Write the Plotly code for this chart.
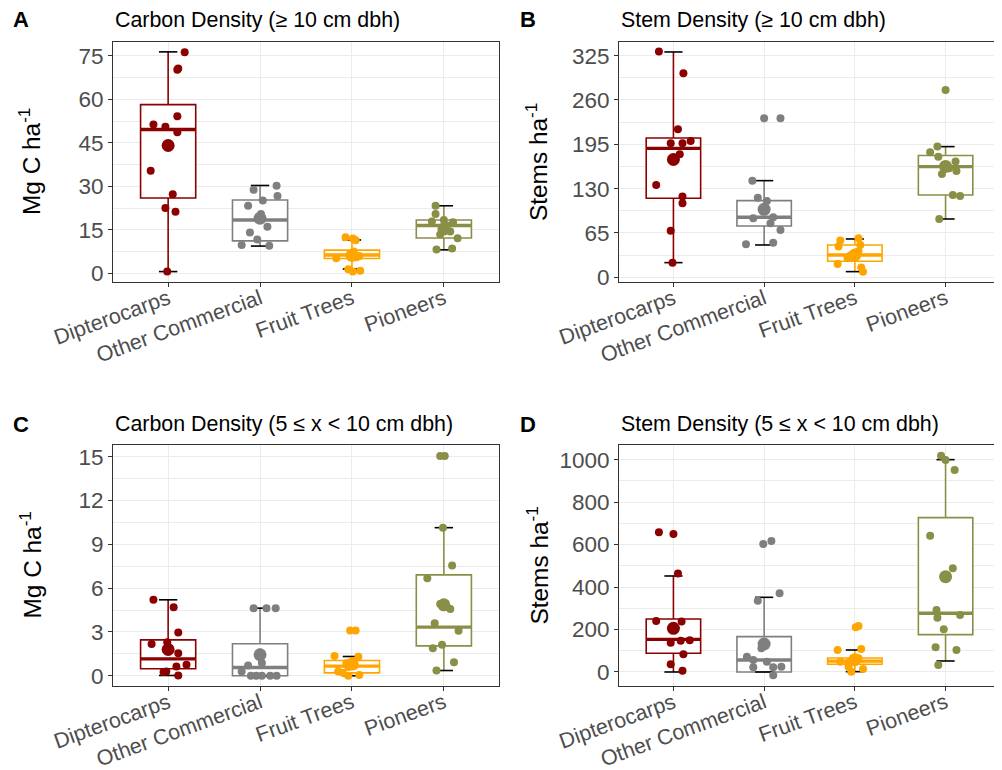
import plotly.graph_objects as go

categories = ["Dipterocarps", "Other Commercial", "Fruit Trees", "Pioneers"]
colors = ["#8B0000", "#7F7F7F", "#FFA500", "#8A8F47"]

# ---------------- Panel A: Carbon density (>= 10 cm dbh) ----------------
A_q1 = [26.0, 11.2, 5.1, 12.2]
A_med = [49.6, 18.4, 6.3, 16.5]
A_q3 = [58.2, 25.3, 8.0, 18.4]
A_lo = [0.6, 9.4, 1.5, 8.1]
A_hi = [76.4, 30.3, 11.5, 23.3]
A_mean = [44.1, 19.0, 6.2, 15.3]
A_pts = [
    [76.3, 70.7, 70.2, 54.2, 51.3, 50.6, 48.7, 35.4, 27.3, 22.5, 21.2, 0.6],
    [30.2, 28.8, 26.7, 25.1, 23.3, 20.5, 18.6, 16.1, 14.1, 11.7, 9.8, 9.5],
    [12.4, 12.0, 11.4, 7.5, 6.9, 6.3, 6.0, 5.5, 5.2, 1.4, 0.9, 0.6],
    [23.3, 20.5, 18.4, 17.9, 17.6, 16.5, 15.5, 14.4, 13.4, 12.1, 8.6, 8.2],
]
A_jit = [
    [0.18, 0.11, 0.10, 0.10, -0.16, -0.03, 0.10, -0.19, 0.05, -0.03, 0.08, -0.01],
    [0.18, -0.07, 0.19, 0.03, -0.13, 0.01, -0.02, 0.08, -0.11, -0.03, -0.20, 0.10],
    [-0.07, 0.01, 0.04, 0.02, 0.00, -0.02, 0.08, 0.05, -0.17, -0.04, 0.09, 0.01],
    [-0.09, -0.09, 0.00, -0.13, 0.10, 0.03, -0.02, 0.07, -0.04, 0.15, 0.09, -0.08],
]

# ---------------- Panel B: Stem density (>= 10 cm dbh) ----------------
B_q1 = [115.8, 75.3, 23.5, 120.7]
B_med = [189.1, 88.0, 32.7, 162.3]
B_q3 = [204.3, 112.4, 47.4, 178.6]
B_lo = [21.5, 47.4, 8.3, 85.5]
B_hi = [330.4, 141.7, 56.2, 191.6]
B_mean = [172.7, 99.7, 32.7, 162.5]
B_pts = [
    [330.9, 299.1, 217.0, 196.5, 196.5, 199.9, 180.3, 135.4, 118.3, 108.5, 68.4, 21.5],
    [233.1, 233.1, 141.7, 116.8, 111.9, 97.0, 88.0, 86.5, 79.2, 69.4, 50.8, 48.4],
    [57.2, 53.8, 47.4, 45.0, 38.0, 36.2, 32.0, 30.3, 27.9, 19.5, 14.2, 8.3],
    [274.7, 191.6, 183.3, 176.9, 169.6, 165.0, 159.8, 155.9, 151.5, 120.7, 119.2, 85.5],
]
B_jit = [
    [-0.16, 0.11, 0.05, -0.03, 0.10, 0.19, 0.07, -0.19, 0.10, 0.10, -0.03, -0.01],
    [0.00, 0.18, -0.13, -0.07, 0.03, -0.01, 0.10, -0.12, 0.07, 0.18, 0.10, -0.20],
    [0.04, -0.16, 0.06, -0.18, 0.04, 0.01, -0.05, -0.03, -0.08, -0.19, 0.07, 0.09],
    [0.00, -0.09, -0.17, -0.08, 0.11, 0.01, 0.04, 0.12, -0.04, 0.08, 0.16, -0.07],
]

# ---------------- Panel C: Carbon density (5 <= x < 10 cm dbh) ----------------
C_q1 = [0.48, 0.0, 0.2, 2.05]
C_med = [1.16, 0.57, 0.66, 3.33]
C_q3 = [2.46, 2.19, 1.05, 6.91]
C_lo = [0.02, 0.0, 0.0, 0.36]
C_hi = [5.2, 4.63, 1.32, 10.14]
C_mean = [1.8, 1.44, 0.8, 4.86]
C_pts = [
    [5.2, 4.7, 2.96, 2.3, 2.17, 1.9, 1.55, 0.75, 0.64, 0.3, 0.25, 0.02],
    [4.63, 4.63, 4.63, 1.6, 0.87, 0.71, 0.3, 0.0, 0.0, 0.0, 0.0, 0.0],
    [3.1, 3.1, 1.35, 1.3, 1.0, 0.85, 0.7, 0.6, 0.3, 0.2, 0.05, 0.0],
    [15.05, 15.05, 10.14, 7.55, 6.68, 4.92, 4.58, 3.6, 3.08, 2.12, 1.89, 0.93, 0.36],
]
C_jit = [
    [-0.16, 0.06, 0.11, -0.01, -0.18, 0.01, 0.11, 0.20, 0.09, -0.02, -0.05, 0.11],
    [-0.07, 0.07, 0.17, 0.00, 0.02, -0.13, -0.20, -0.10, 0.02, 0.11, 0.18, -0.04],
    [-0.02, 0.04, -0.19, 0.07, 0.01, -0.06, 0.03, -0.04, -0.15, -0.10, 0.08, -0.04],
    [-0.04, 0.01, -0.01, 0.09, -0.18, -0.04, 0.07, -0.10, 0.16, -0.02, -0.12, 0.11, -0.08],
]

# ---------------- Panel D: Stem density (5 <= x < 10 cm dbh) ----------------
D_q1 = [87.9, 0.0, 36.1, 176.0]
D_med = [153.8, 56.5, 51.0, 276.3]
D_q3 = [249.6, 166.4, 66.0, 726.8]
D_lo = [0.0, 0.0, 1.6, 51.8]
D_hi = [452.1, 351.7, 103.6, 1000.0]
D_mean = [205.7, 131.9, 58.0, 448.8]
D_pts = [
    [657.8, 650.0, 464.0, 240.0, 238.0, 150.0, 147.6, 138.2, 83.0, 37.0, 6.3],
    [617.0, 602.8, 370.5, 336.0, 111.5, 72.2, 56.5, 48.7, 25.0, 22.0, 22.0, -15.7],
    [216.6, 210.4, 108.3, 103.6, 64.4, 56.5, 50.0, 48.7, 45.0, 25.1, 14.1, 1.6],
    [1018.7, 998.4, 951.3, 642.0, 488.4, 292.0, 268.4, 255.7, 201.0, 116.3, 103.6, 33.0],
]
D_jit = [
    [-0.16, 0.00, 0.05, -0.19, 0.09, 0.18, 0.08, -0.03, 0.11, -0.03, 0.10],
    [0.08, -0.01, 0.17, -0.07, -0.03, -0.19, -0.12, 0.03, 0.19, -0.12, 0.10, 0.10],
    [0.04, 0.01, 0.07, -0.19, 0.04, -0.03, 0.01, -0.16, -0.07, -0.07, 0.09, -0.04],
    [-0.05, 0.00, 0.10, -0.17, 0.08, -0.10, 0.16, -0.09, -0.02, -0.11, 0.12, -0.08],
]

titles = ["Carbon Density (≥ 10 cm dbh)", "Stem Density (≥ 10 cm dbh)",
          "Carbon Density (5 ≤ x < 10 cm dbh)", "Stem Density (5 ≤ x < 10 cm dbh)"]
letters = ["A", "B", "C", "D"]
ytitles = ["Mg C ha<sup>-1</sup>", "Stems ha<sup>-1</sup>",
           "Mg C ha<sup>-1</sup>", "Stems ha<sup>-1</sup>"]
y_ranges = [[-3.0, 79.8], [-6.9, 345.0], [-0.7, 15.8], [-66, 1069]]
y_dticks = [15, 65, 3, 200]

panels = [
    (A_q1, A_med, A_q3, A_lo, A_hi, A_mean, A_pts, A_jit),
    (B_q1, B_med, B_q3, B_lo, B_hi, B_mean, B_pts, B_jit),
    (C_q1, C_med, C_q3, C_lo, C_hi, C_mean, C_pts, C_jit),
    (D_q1, D_med, D_q3, D_lo, D_hi, D_mean, D_pts, D_jit),
]

# The page body has an 8px margin: the figure starts 8px from the window edge.
OFF = 8
W, H = 1002 - OFF, 770 - OFF
# screen-pixel boxes of the plotting areas: (left, right, top, bottom)
boxes = [(113, 499, 42, 282), (619, 1000, 42, 282),
         (113, 499, 445, 686), (619, 1000, 445, 686)]


def px(xs):
    return (xs - OFF) / W


def py(ys):
    return 1 - (ys - OFF) / H


FONT = "Liberation Sans, Arial, sans-serif"
fig = go.Figure()
BW = 0.6   # box width
CW = 0.1   # half cap width

for p, (q1, med, q3, lo, hi, mean, pts, jit) in enumerate(panels):
    xa = "x" if p == 0 else f"x{p+1}"
    ya = "y" if p == 0 else f"y{p+1}"
    for i, c in enumerate(colors):
        fig.add_trace(go.Box(
            x=[i], q1=[q1[i]], median=[med[i]], q3=[q3[i]],
            lowerfence=[lo[i]], upperfence=[hi[i]],
            width=BW, whiskerwidth=0, fillcolor="white",
            line=dict(color=c, width=1.6), boxpoints=False,
            xaxis=xa, yaxis=ya, showlegend=False, hoverinfo="skip"))
    for i, c in enumerate(colors):
        # black caps of the whiskers
        fig.add_trace(go.Scatter(
            x=[i - CW, i + CW, None, i - CW, i + CW],
            y=[hi[i], hi[i], None, lo[i], lo[i]],
            mode="lines", line=dict(color="black", width=1.6),
            xaxis=xa, yaxis=ya, showlegend=False, hoverinfo="skip"))
        # thick median
        fig.add_trace(go.Scatter(
            x=[i - BW / 2, i + BW / 2], y=[med[i], med[i]],
            mode="lines", line=dict(color=c, width=3.4),
            xaxis=xa, yaxis=ya, showlegend=False, hoverinfo="skip"))
    for i, c in enumerate(colors):
        fig.add_trace(go.Scatter(
            x=[i + d for d in jit[i]], y=pts[i], mode="markers",
            marker=dict(color=c, size=8, line=dict(width=0)),
            xaxis=xa, yaxis=ya, showlegend=False))
        fig.add_trace(go.Scatter(
            x=[i], y=[mean[i]], mode="markers",
            marker=dict(color=c, size=13, line=dict(width=0)),
            xaxis=xa, yaxis=ya, showlegend=False))

layout = dict(
    width=W, height=H, margin=dict(l=0, r=0, t=0, b=0, autoexpand=False),
    paper_bgcolor="white", plot_bgcolor="white",
    font=dict(family=FONT, color="black"),
    boxmode="overlay", showlegend=False,
)
annotations = []
for p in range(4):
    l, r, t, b = boxes[p]
    xk = "xaxis" if p == 0 else f"xaxis{p+1}"
    yk = "yaxis" if p == 0 else f"yaxis{p+1}"
    ya = "y" if p == 0 else f"y{p+1}"
    xa = "x" if p == 0 else f"x{p+1}"
    layout[xk] = dict(
        domain=[px(l), min(1.0, px(r))], anchor=ya, range=[-0.6, 3.6],
        automargin=False,
        tickmode="array", tickvals=[0, 1, 2, 3], ticktext=categories,
        tickangle=-20, tickfont=dict(size=21.5, color="#4D4D4D", family=FONT),
        ticklabelstandoff=-9,
        showgrid=True, gridcolor="#EBEBEB", gridwidth=1.2, zeroline=False,
        showline=True, mirror=True, linecolor="#333333", linewidth=1.1,
        ticks="outside", ticklen=4, tickcolor="#333333", tickwidth=1.1)
    layout[yk] = dict(
        domain=[py(b), py(t)], anchor=xa, range=y_ranges[p], automargin=False,
        tickmode="linear", tick0=0, dtick=y_dticks[p],
        tickfont=dict(size=22.5, color="#4D4D4D", family=FONT),
        showgrid=True, gridcolor="#EBEBEB", gridwidth=1.2, zeroline=False,
        minor=dict(tick0=0, dtick=y_dticks[p] / 2, showgrid=True,
                   gridcolor="#EBEBEB", gridwidth=0.6, ticks=""),
        showline=True, mirror=True, linecolor="#333333", linewidth=1.1,
        ticks="outside", ticklen=4, tickcolor="#333333", tickwidth=1.1)
    title_y = 20 if p < 2 else 424
    annotations.append(dict(
        text=titles[p], xref="paper", yref="paper", x=px(l), y=py(title_y),
        xanchor="left", yanchor="middle", showarrow=False,
        font=dict(size=21.4, color="black", family=FONT)))
    annotations.append(dict(
        text="<b>" + letters[p] + "</b>", xref="paper", yref="paper",
        x=px(11 if p % 2 == 0 else 518), y=py(title_y),
        xanchor="left", yanchor="middle", showarrow=False,
        font=dict(size=22, color="black", family=FONT)))
    ytx = 30 if p % 2 == 0 else 537
    annotations.append(dict(
        text=ytitles[p], xref="paper", yref="paper", x=px(ytx),
        y=py((t + b) / 2), xanchor="center", yanchor="middle",
        textangle=-90, showarrow=False,
        font=dict(size=24.4, color="black", family=FONT)))
layout["annotations"] = annotations
fig.update_layout(**layout)
fig.write_html("out.html")
